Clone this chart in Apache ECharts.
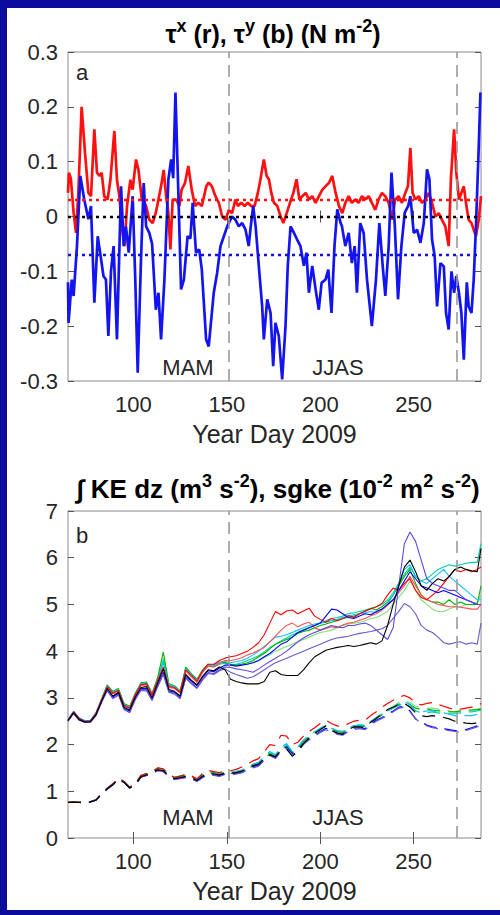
<!DOCTYPE html>
<html><head><meta charset="utf-8">
<script src="https://cdn.jsdelivr.net/npm/echarts@6/dist/echarts.min.js"></script>
<style>html,body{margin:0;padding:0;background:#0c0c9c;}#c{width:500px;height:915px;}</style>
</head><body><div id="c"></div>
<script>
// ---------- Panel a data: [yearDay, stress N m^-2] ----------
const tauxRed = [[65,0.043],[65.5,0.08],[66.5,0.07],[68,0.007],[69.3,-0.03],[70.5,0.04],[72.3,0.2],[74.1,0.116],[75.9,0.043],[77.3,0.037],[79.1,0.159],[80.5,0.08],[81.9,0.074],[83,0.08],[84.4,0.037],[86.2,0.031],[87.7,0.067],[89.8,0.156],[91.2,0.067],[92.5,0.037],[93.8,-0.018],[95.2,-0.054],[96.6,0.019],[98.4,0.067],[99.6,0.049],[101.4,0.104],[102.7,0.085],[104.5,0.031],[106.8,0.019],[108.5,-0.006],[110.3,-0.012],[112,0.007],[114.8,0.055],[116.2,0.085],[117.5,0.037],[118.7,0.007],[119.8,-0.06],[121,0.031],[122.8,0.031],[124.6,0.019],[125.8,0.049],[127.6,0.061],[129.4,0.092],[131.2,0.049],[133,0.019],[134.7,0.025],[136.6,0.019],[139,0.055],[140.3,0.062],[142,0.055],[143.9,0.037],[145.7,0.025],[147.5,0.0],[149.3,-0.006],[151.1,0.012],[152.8,0.006],[154.6,0.031],[155.9,0.019],[157.7,0.025],[159.5,0.019],[161.2,0.025],[163,0.019],[164.8,0.019],[166.6,0.043],[168,0.068],[169.8,0.104],[171.3,0.074],[172.5,0.068],[173.8,0.043],[175.2,0.025],[177,0.019],[178.8,0.0],[180.2,-0.012],[182,0.006],[183.8,0.025],[185.6,0.043],[187.3,0.068],[188.8,0.031],[190.4,0.037],[192.2,0.043],[194,0.031],[195.7,0.037],[197.5,0.025],[199.3,0.037],[201.1,0.049],[202.8,0.055],[204.6,0.061],[206.4,0.074],[208.2,0.043],[210,0.019],[211.8,0.006],[213.4,0.025],[215.2,0.037],[216.9,0.025],[218.7,0.031],[220.5,0.025],[222.3,0.037],[224.1,0.031],[225.9,0.037],[227.6,0.025],[229.4,0.012],[231.2,0.031],[233,0.043],[234.8,0.037],[236.6,0.025],[238.4,-0.006],[240.1,0.031],[241.9,0.037],[243.7,0.025],[245.5,0.043],[246.9,0.055],[248.2,0.125],[249.4,0.043],[250.9,0.031],[252.7,0.037],[254.4,0.025],[256.2,0.031],[258,0.043],[259.8,0.025],[261.6,0.0],[263.4,0.006],[265.1,-0.006],[266.9,-0.018],[268.7,-0.054],[269.9,0.068],[271.6,0.159],[272.8,0.08],[274.2,0.031],[275.5,0.043],[276.8,0.055],[278.2,0.019],[279.4,-0.006],[280.9,-0.012],[282.1,-0.024],[283.3,-0.036],[284.8,-0.006],[286,0.037]];
const tauyBlue = [[65,-0.12],[65.3,-0.194],[67,-0.115],[68,-0.145],[69.8,-0.054],[71.6,0.074],[73.7,0.031],[75.9,-0.005],[77.3,0.019],[79.1,-0.157],[80.9,-0.036],[82.7,-0.078],[84,-0.109],[85.3,-0.115],[86.6,-0.218],[88,-0.10],[89.4,-0.054],[91.2,-0.224],[93.4,0.055],[94.8,-0.054],[96,-0.018],[97.5,-0.066],[99.6,0.037],[101,-0.115],[102.3,-0.285],[104,-0.085],[105.5,0.061],[106.8,-0.018],[108.5,-0.03],[110,-0.05],[112,-0.17],[113.4,-0.139],[114.8,-0.224],[116.6,-0.115],[118.7,0.067],[120.2,0.104],[121.3,0.07],[122.5,0.226],[124,0.049],[125.5,-0.133],[127,-0.115],[129,-0.036],[130.5,-0.04],[131.7,0.025],[133.5,-0.066],[135.2,-0.06],[136.6,-0.097],[138.9,-0.224],[140.3,-0.237],[143,-0.139],[144.8,-0.103],[146.6,-0.054],[148.4,-0.036],[150.2,-0.018],[152.8,0.0],[154.6,-0.006],[156.4,-0.018],[158.2,-0.012],[160,-0.024],[161.7,-0.054],[162.6,-0.024],[164.1,0.019],[165.4,-0.018],[167.1,-0.09],[168.9,-0.164],[169.8,-0.224],[171.6,-0.151],[173.4,-0.176],[174.8,-0.273],[176,-0.194],[177.8,-0.218],[179.6,-0.297],[181.4,-0.2],[182.6,-0.09],[184.1,-0.018],[185.9,-0.03],[187.6,-0.042],[189.4,-0.054],[191.2,-0.09],[192.6,-0.066],[193.9,-0.139],[195.7,-0.09],[197.5,-0.133],[199.2,-0.17],[200.7,-0.121],[202.8,-0.115],[204.3,-0.097],[206,-0.176],[207.6,-0.054],[209.1,0.013],[210.9,-0.012],[211.6,-0.018],[213.4,-0.054],[215.2,-0.03],[216.9,-0.085],[218.4,-0.054],[219.6,-0.139],[221.4,-0.012],[223.2,-0.03],[225,-0.115],[227.6,-0.2],[229.8,-0.115],[231.6,-0.012],[233.4,-0.09],[234.8,-0.145],[236.6,-0.054],[238.1,0.08],[239.9,-0.018],[241.6,-0.151],[243.4,-0.054],[245.2,0.007],[247,0.019],[248.2,0.037],[250,-0.03],[251.8,-0.024],[253.6,-0.048],[255.4,-0.012],[257.1,0.086],[258.4,0.068],[259.8,-0.042],[261.2,-0.072],[262.5,-0.164],[264.3,-0.085],[266.1,-0.091],[267.3,-0.176],[268.7,-0.206],[270.2,-0.1],[271.6,-0.139],[272.8,-0.109],[274.2,-0.139],[275.5,-0.176],[276.8,-0.261],[278.4,-0.12],[279.4,-0.164],[280.9,-0.176],[282.1,-0.115],[283.3,-0.018],[284.8,0.128],[285.7,0.226]];
const tauxMean = 0.03, tauyMean = -0.072;
const seasonEdges = [151, 273];
const xTicks = [100, 150, 200, 250];

// ---------- Panel b data: year days and values ----------
const dayB = [65,68,71,74,77,80,83,86,89,92,95,98,101,104,107,110,113,116,119,122,125,128,131,134,137,140,143,146,149,152,155,158,161,164,167,170,173,176,179,182,185,188,191,194,197,200,203,206,209,212,215,218,221,224,227,230,233,236,239,242,245,248,251,254,257,260,263,266,269,272,275,278,281,284,286];
// integrated KE (solid)
const keRed1 = [2.53,2.70,2.56,2.50,2.51,2.67,2.96,3.24,3.10,3.16,2.84,2.78,3.07,3.28,3.30,3.06,3.38,3.66,3.24,3.22,3.12,3.60,3.48,3.36,3.58,3.72,3.72,3.80,3.85,3.88,3.90,3.95,4.00,4.08,4.18,4.35,4.60,4.85,4.78,4.86,4.88,4.80,4.86,4.92,4.75,4.68,4.62,4.70,4.65,4.70,4.76,4.72,4.80,4.86,4.90,4.95,5.02,5.20,5.35,5.30,5.45,5.55,5.30,5.15,5.10,5.20,5.30,5.45,5.60,5.75,5.70,5.75,5.70,5.75,5.80];
const keRed2 = [2.52,2.69,2.55,2.49,2.50,2.66,2.95,3.22,3.09,3.15,2.83,2.77,3.06,3.26,3.28,3.05,3.36,3.63,3.22,3.20,3.10,3.57,3.45,3.33,3.54,3.68,3.66,3.74,3.80,3.80,3.82,3.86,3.92,3.96,4.02,4.08,4.20,4.32,4.45,4.55,4.60,4.52,4.58,4.62,4.50,4.45,4.48,4.52,4.50,4.56,4.60,4.62,4.66,4.70,4.76,4.80,4.88,4.98,5.10,5.25,5.40,5.60,5.40,5.20,5.10,5.05,5.00,4.98,4.95,4.95,4.94,4.92,4.90,4.90,5.00];
const keBlue = [2.51,2.68,2.54,2.49,2.49,2.64,2.93,3.18,3.02,3.10,2.78,2.72,3.00,3.20,3.20,2.98,3.28,3.55,3.15,3.12,3.02,3.46,3.36,3.26,3.44,3.58,3.56,3.64,3.70,3.70,3.68,3.70,3.72,3.75,3.80,3.88,3.95,4.05,4.15,4.20,4.30,4.40,4.45,4.50,4.55,4.60,4.75,4.90,4.88,4.80,4.72,4.70,4.75,4.80,4.78,4.85,4.90,5.00,5.10,5.30,5.50,5.70,5.55,5.40,5.35,5.30,5.25,5.30,5.25,5.20,5.15,5.10,5.05,5.00,5.00];
const kePurple1 = [2.50,2.67,2.53,2.48,2.48,2.63,2.92,3.17,3.00,3.08,2.76,2.70,2.98,3.18,3.18,2.96,3.26,3.52,3.13,3.10,3.00,3.44,3.32,3.22,3.40,3.54,3.52,3.60,3.66,3.65,3.62,3.60,3.58,3.55,3.62,3.70,3.78,3.85,3.92,4.00,4.10,4.20,4.28,4.35,4.40,4.45,4.50,4.55,4.52,4.50,4.55,4.55,4.58,4.60,4.55,4.45,4.35,4.25,4.50,5.40,6.30,6.55,6.35,5.95,5.55,5.45,5.40,5.35,5.30,5.30,5.20,5.10,5.05,5.00,5.00];
const kePurple2 = [2.50,2.66,2.52,2.48,2.48,2.62,2.90,3.15,2.98,3.06,2.75,2.68,2.96,3.16,3.15,2.94,3.24,3.50,3.12,3.08,2.98,3.42,3.30,3.20,3.38,3.52,3.50,3.58,3.62,3.55,3.50,3.46,3.42,3.45,3.52,3.60,3.68,3.75,3.80,3.85,3.90,3.95,4.00,4.05,4.10,4.15,4.20,4.25,4.28,4.30,4.32,4.35,4.38,4.40,4.42,4.45,4.48,4.55,4.70,4.85,5.02,4.95,4.80,4.55,4.45,4.40,4.30,4.18,4.15,4.18,4.20,4.15,4.18,4.15,4.60];
const keBlack = [2.51,2.68,2.53,2.48,2.49,2.64,2.93,3.20,3.04,3.12,2.80,2.74,3.02,3.22,3.24,3.00,3.32,3.62,3.18,3.14,3.04,3.50,3.38,3.28,3.46,3.60,3.58,3.66,3.60,3.40,3.35,3.32,3.30,3.30,3.30,3.35,3.55,3.58,3.50,3.48,3.48,3.48,3.60,3.75,3.88,3.95,4.02,4.05,4.08,4.10,4.12,4.10,4.12,4.15,4.18,4.15,4.22,4.55,5.00,5.40,5.80,5.95,5.70,5.40,5.30,5.45,5.55,5.50,5.60,5.75,5.80,5.75,5.72,5.70,6.20];
const keCyan = [2.53,2.71,2.57,2.51,2.51,2.68,2.97,3.26,3.12,3.18,2.86,2.80,3.09,3.30,3.32,3.08,3.40,3.75,3.28,3.24,3.14,3.62,3.50,3.38,3.58,3.70,3.70,3.76,3.78,3.75,3.78,3.80,3.85,3.92,4.00,4.10,4.20,4.30,4.32,4.35,4.40,4.45,4.50,4.55,4.58,4.60,4.62,4.65,4.68,4.72,4.75,4.78,4.80,4.82,4.85,4.82,4.88,5.00,5.20,5.45,5.75,5.85,5.60,5.50,5.45,5.55,5.65,5.75,5.60,5.50,5.40,5.30,5.20,5.10,5.10];
const keGreen = [2.53,2.71,2.57,2.51,2.52,2.68,2.98,3.28,3.14,3.20,2.88,2.82,3.10,3.32,3.34,3.10,3.44,3.98,3.30,3.26,3.15,3.66,3.52,3.40,3.60,3.72,3.70,3.76,3.76,3.72,3.70,3.72,3.75,3.80,3.88,3.95,4.05,4.15,4.20,4.25,4.30,4.38,4.42,4.45,4.50,4.55,4.58,4.62,4.65,4.70,4.72,4.75,4.80,4.85,4.92,4.88,4.95,5.05,5.20,5.40,5.60,5.75,5.45,5.20,5.10,5.05,5.05,5.00,5.10,5.00,5.05,5.00,5.00,5.00,5.40];
const keLightGreen = [2.52,2.70,2.56,2.50,2.51,2.67,2.97,3.25,3.12,3.18,2.86,2.80,3.08,3.30,3.31,3.08,3.40,3.85,3.27,3.24,3.14,3.63,3.50,3.38,3.57,3.70,3.68,3.74,3.76,3.72,3.72,3.72,3.74,3.76,3.80,3.86,3.92,4.00,4.05,4.10,4.15,4.20,4.25,4.30,4.35,4.40,4.42,4.45,4.50,4.55,4.58,4.60,4.62,4.65,4.70,4.72,4.78,4.85,5.00,5.15,5.30,5.50,5.30,5.10,5.00,4.90,4.85,4.85,4.90,4.95,4.95,5.00,5.00,5.05,5.20];
const keTeal = [2.52,2.70,2.56,2.50,2.51,2.67,2.96,3.25,3.11,3.17,2.85,2.79,3.08,3.30,3.30,3.07,3.40,3.80,3.26,3.22,3.12,3.60,3.48,3.36,3.56,3.68,3.66,3.72,3.74,3.70,3.72,3.75,3.80,3.85,3.90,3.98,4.08,4.15,4.22,4.28,4.35,4.40,4.45,4.50,4.55,4.60,4.65,4.70,4.72,4.75,4.80,4.82,4.85,4.88,4.92,4.95,5.00,5.10,5.25,5.45,5.65,5.80,5.60,5.50,5.55,5.65,5.75,5.80,5.85,5.82,5.85,5.88,5.90,5.90,6.30];
// sgke (dashed)
const sgRed = [0.77,0.77,0.77,0.76,0.78,0.82,0.95,1.06,1.16,1.28,1.21,1.09,1.16,1.34,1.38,1.42,1.50,1.48,1.36,1.30,1.32,1.36,1.33,1.27,1.38,1.45,1.42,1.40,1.44,1.44,1.47,1.52,1.58,1.65,1.70,1.85,2.00,1.98,2.20,2.18,2.00,2.05,2.18,2.28,2.36,2.45,2.52,2.45,2.40,2.38,2.45,2.50,2.52,2.52,2.62,2.70,2.80,2.88,2.95,3.02,3.05,3.00,2.88,2.85,2.88,2.90,2.86,2.82,2.78,2.75,2.76,2.78,2.80,2.82,2.88];
const sgBlue = [0.76,0.76,0.76,0.75,0.77,0.81,0.94,1.05,1.14,1.26,1.19,1.07,1.14,1.30,1.34,1.38,1.45,1.43,1.32,1.26,1.28,1.30,1.27,1.22,1.30,1.37,1.35,1.33,1.37,1.37,1.38,1.40,1.46,1.52,1.56,1.68,1.78,1.72,1.88,1.95,1.80,1.88,2.02,2.12,2.20,2.28,2.35,2.28,2.24,2.22,2.30,2.35,2.36,2.34,2.44,2.52,2.58,2.65,2.72,2.80,2.82,2.72,2.55,2.48,2.42,2.38,2.36,2.34,2.32,2.30,2.28,2.32,2.36,2.40,2.45];
const sgCyan = [0.77,0.77,0.77,0.76,0.78,0.82,0.95,1.06,1.15,1.27,1.20,1.08,1.15,1.32,1.36,1.40,1.47,1.45,1.34,1.28,1.30,1.33,1.30,1.24,1.33,1.40,1.38,1.36,1.40,1.40,1.42,1.45,1.52,1.58,1.62,1.75,1.85,1.78,1.95,2.02,1.85,1.95,2.10,2.20,2.28,2.35,2.42,2.35,2.30,2.28,2.35,2.40,2.42,2.40,2.50,2.58,2.65,2.72,2.80,2.88,2.92,2.85,2.72,2.70,2.72,2.72,2.70,2.68,2.65,2.62,2.62,2.62,2.62,2.65,2.70];
const sgGreen = [0.77,0.77,0.77,0.76,0.78,0.82,0.95,1.07,1.16,1.28,1.21,1.09,1.16,1.33,1.38,1.42,1.50,1.47,1.36,1.30,1.33,1.36,1.32,1.26,1.35,1.42,1.40,1.37,1.41,1.38,1.40,1.42,1.48,1.54,1.58,1.70,1.80,1.75,1.90,1.96,1.82,1.92,2.06,2.16,2.24,2.32,2.40,2.34,2.28,2.26,2.34,2.38,2.40,2.40,2.48,2.56,2.64,2.72,2.80,2.86,2.90,2.86,2.78,2.76,2.76,2.74,2.72,2.72,2.70,2.70,2.72,2.74,2.74,2.75,2.76];
const sgBlack = [0.76,0.77,0.76,0.76,0.77,0.81,0.94,1.05,1.14,1.26,1.19,1.07,1.14,1.31,1.35,1.39,1.46,1.44,1.33,1.27,1.29,1.32,1.29,1.23,1.32,1.39,1.37,1.35,1.39,1.39,1.40,1.43,1.48,1.55,1.58,1.70,1.78,1.74,1.88,1.90,1.75,1.85,2.02,2.14,2.24,2.32,2.40,2.30,2.25,2.22,2.32,2.38,2.38,2.36,2.48,2.56,2.66,2.75,2.80,2.86,2.88,2.80,2.68,2.62,2.60,2.62,2.60,2.58,2.55,2.50,2.48,2.46,2.45,2.46,2.48];
const sgPurple = [0.76,0.76,0.76,0.75,0.77,0.81,0.94,1.05,1.14,1.26,1.19,1.07,1.13,1.30,1.34,1.37,1.44,1.42,1.31,1.25,1.27,1.29,1.26,1.21,1.29,1.36,1.34,1.32,1.36,1.36,1.37,1.40,1.46,1.50,1.54,1.66,1.76,1.70,1.86,1.92,1.78,1.86,2.00,2.10,2.18,2.26,2.32,2.26,2.22,2.20,2.28,2.32,2.34,2.32,2.42,2.50,2.56,2.62,2.70,2.78,2.80,2.70,2.55,2.46,2.40,2.36,2.34,2.32,2.30,2.28,2.26,2.30,2.34,2.38,2.42];
const sgLightGreen = [0.77,0.77,0.77,0.76,0.78,0.82,0.96,1.07,1.16,1.28,1.21,1.09,1.16,1.33,1.37,1.41,1.49,1.46,1.35,1.29,1.32,1.35,1.31,1.25,1.34,1.41,1.39,1.37,1.41,1.41,1.43,1.46,1.52,1.58,1.62,1.74,1.84,1.78,1.94,2.00,1.85,1.94,2.08,2.18,2.26,2.34,2.42,2.36,2.30,2.28,2.36,2.40,2.42,2.42,2.50,2.58,2.66,2.74,2.82,2.90,2.94,2.90,2.82,2.80,2.78,2.78,2.76,2.74,2.72,2.70,2.70,2.72,2.74,2.76,2.78];
const sgTeal = [0.77,0.77,0.77,0.76,0.78,0.82,0.95,1.06,1.15,1.27,1.20,1.08,1.15,1.32,1.36,1.40,1.48,1.46,1.35,1.29,1.31,1.34,1.31,1.25,1.34,1.41,1.39,1.36,1.40,1.39,1.41,1.44,1.50,1.56,1.60,1.72,1.82,1.76,1.92,1.98,1.84,1.92,2.06,2.16,2.25,2.33,2.40,2.33,2.28,2.26,2.33,2.38,2.40,2.39,2.48,2.56,2.64,2.72,2.78,2.84,2.88,2.82,2.72,2.68,2.68,2.70,2.68,2.66,2.66,2.66,2.68,2.70,2.70,2.72,2.74];

const FONT = '"Liberation Sans", Arial, Helvetica, sans-serif';
const TXT = '#262626';

function pairs(vals) {
  const out = [];
  for (let i = 0; i < vals.length && i < dayB.length; i++) out.push([dayB[i], vals[i]]);
  return out;
}

function xAx(grid, pos, show) {
  return {
    type: 'value', gridIndex: grid, position: pos, min: 65, max: 286,
    splitLine: { show: false }, axisLine: { show: false },
    axisTick: { show: true, inside: true, length: 6, lineStyle: { color: '#555', width: 1 }, customValues: xTicks },
    axisLabel: { show: show, customValues: xTicks, color: TXT, fontSize: 22, margin: 12, fontFamily: FONT },
    name: show ? 'Year Day 2009' : '', nameLocation: 'middle', nameGap: 40,
    nameTextStyle: { color: TXT, fontSize: 25, fontFamily: FONT }
  };
}
function yAx(grid, pos, show, min, max, step, fmt) {
  return {
    type: 'value', gridIndex: grid, position: pos, min: min, max: max, interval: step,
    splitLine: { show: false }, axisLine: { show: false },
    axisTick: { show: true, inside: true, length: 6, lineStyle: { color: '#555', width: 1 } },
    axisLabel: { show: show, color: TXT, fontSize: 22, margin: 10, fontFamily: FONT, formatter: fmt }
  };
}
const fmtA = v => { const r = Math.round(v * 10) / 10; return r === 0 ? '0' : r.toFixed(1); };
const fmtB = v => String(Math.round(v));

const vLines = seasonEdges.map(d => ({ xAxis: d, lineStyle: { color: '#9a9a9a', type: [12, 7], width: 1.6 } }));

const series = [
  { name: 'taux', type: 'line', xAxisIndex: 0, yAxisIndex: 0, data: tauxRed, showSymbol: false, silent: true,
    lineStyle: { color: '#ff1010', width: 2.7 }, z: 3,
    markLine: { silent: true, symbol: 'none', label: { show: false }, animation: false,
      data: vLines.concat([
        { yAxis: 0, lineStyle: { color: '#000', type: [3, 4], width: 2.4 } },
        { yAxis: tauxMean, lineStyle: { color: '#ff1010', type: [3, 4], width: 2.4 } },
        { yAxis: tauyMean, lineStyle: { color: '#1010e0', type: [3, 4], width: 2.4 } }
      ]) } },
  { name: 'tauy', type: 'line', xAxisIndex: 0, yAxisIndex: 0, data: tauyBlue, showSymbol: false, silent: true,
    lineStyle: { color: '#1414f0', width: 2.7 }, z: 4 }
];

const solidSet = [
  ['#7fe07f', keLightGreen], ['#00d0a8', keTeal], ['#00b000', keGreen], ['#10c0ff', keCyan],
  ['#ff5050', keRed2], ['#ff0000', keRed1], ['#0000ff', keBlue], ['#6a5acd', kePurple2],
  ['#5a48e0', kePurple1], ['#000000', keBlack]
];
const dashSet = [
  ['#7fe07f', sgLightGreen], ['#00d0a8', sgTeal], ['#00b000', sgGreen], ['#10c0ff', sgCyan],
  ['#ff0000', sgRed], ['#0000ff', sgBlue], ['#6a5acd', sgPurple], ['#000000', sgBlack]
];
solidSet.forEach(([c, v], i) => {
  const s = { type: 'line', xAxisIndex: 2, yAxisIndex: 2, data: pairs(v), showSymbol: false, silent: true,
    lineStyle: { color: c, width: 1.1 }, z: 3 };
  if (i === 0) s.markLine = { silent: true, symbol: 'none', label: { show: false }, animation: false, data: vLines };
  series.push(s);
});
dashSet.forEach(([c, v]) => {
  series.push({ type: 'line', xAxisIndex: 2, yAxisIndex: 2, data: pairs(v), showSymbol: false, silent: true,
    lineStyle: { color: c, width: 1.2, type: [13, 8] }, z: 3 });
});

function richT(main, sup, lift) {
  return {
    n: { fontSize: main, fontWeight: 'bold', fontFamily: FONT, fill: '#000', color: '#000' },
    s: { fontSize: sup, fontWeight: 'bold', fontFamily: FONT, fill: '#000', color: '#000', padding: [0, 0, lift, 0] }
  };
}
function label(x, y, t) {
  return { type: 'text', x: x, y: y, z: 20, silent: true,
    style: { text: t, fill: TXT, fontSize: 22, fontFamily: FONT, align: 'center', verticalAlign: 'middle' } };
}

const chart = echarts.init(document.getElementById('c'), null, { renderer: 'svg', width: 500, height: 915 });
chart.setOption({
  animation: false,
  backgroundColor: '#0c0c9c',
  grid: [
    { left: 68, top: 52, width: 413, height: 329, show: true, backgroundColor: '#fff', borderColor: '#8a8a8a', borderWidth: 1, containLabel: false },
    { left: 68, top: 511, width: 413, height: 327, show: true, backgroundColor: '#fff', borderColor: '#8a8a8a', borderWidth: 1, containLabel: false }
  ],
  xAxis: [xAx(0, 'bottom', true), xAx(0, 'top', false), xAx(1, 'bottom', true), xAx(1, 'top', false)],
  yAxis: [
    yAx(0, 'left', true, -0.3, 0.3, 0.1, fmtA), yAx(0, 'right', false, -0.3, 0.3, 0.1, fmtA),
    yAx(1, 'left', true, 0, 7, 1, fmtB), yAx(1, 'right', false, 0, 7, 1, fmtB)
  ],
  graphic: [
    { type: 'rect', z: -10, silent: true, shape: { x: 7, y: 8, width: 493, height: 902 }, style: { fill: '#fff' } },
    { type: 'text', x: 273, y: 34, z: 20, silent: true,
      style: { text: '{n|τ}{s|x}{n| (r), τ}{s|y}{n| (b) (N m}{s|-2}{n|)}', align: 'center', verticalAlign: 'middle', rich: richT(25, 18, 16) } },
    { type: 'text', x: 278, y: 489, z: 20, silent: true,
      style: { text: '{n|∫ KE dz (m}{s|3}{n| s}{s|-2}{n|), sgke (10}{s|-2}{n| m}{s|2}{n| s}{s|-2}{n|)}', align: 'center', verticalAlign: 'middle', rich: richT(26, 18, 17) } },
    label(82, 72, 'a'), label(188, 367, 'MAM'), label(338, 367, 'JJAS'),
    label(82, 535, 'b'), label(188, 817, 'MAM'), label(338, 817, 'JJAS')
  ],
  series: series
});
</script></body></html>
